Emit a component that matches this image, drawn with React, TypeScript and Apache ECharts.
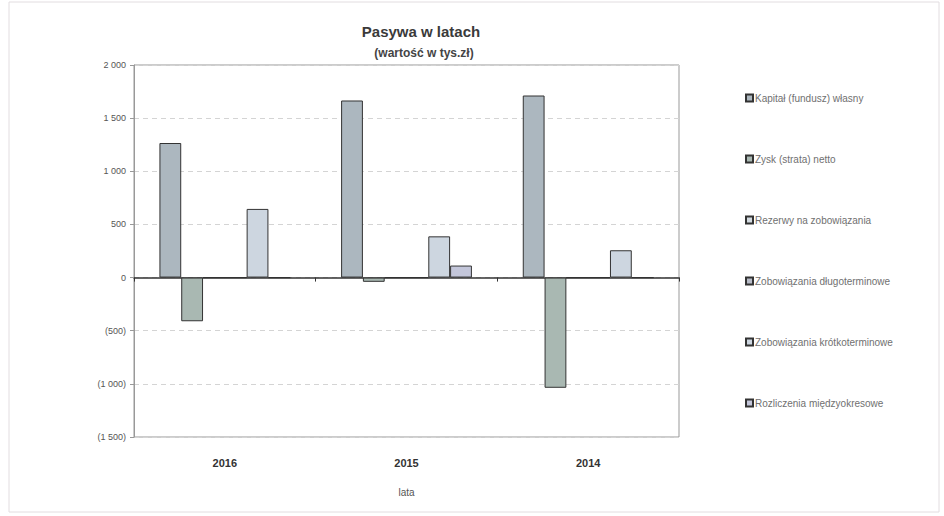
import React, { useEffect, useRef } from "react";
import * as echarts from "echarts";

const categories = ["2016", "2015", "2014"];
const seriesNames = [
  "Kapitał (fundusz) własny",
  "Zysk (strata) netto",
  "Rezerwy na zobowiązania",
  "Zobowiązania długoterminowe",
  "Zobowiązania krótkoterminowe",
  "Rozliczenia międzyokresowe",
];
const kapital = [1266, 1666, 1713];
const zysk = [-411, -40, -1037];
const rezerwy = [0, 0, 0];
const zobDlugo = [0, 0, 0];
const zobKrotko = [646, 388, 257];
const rozliczenia = [0, 113, 0];
const seriesColors = ["#acb7bf", "#a9b8b2", "#d3dae0", "#b8bcc8", "#cdd6e0", "#c3c6da"];

function fmt(v: number): string {
  const a = Math.abs(v);
  const s = a >= 1000 ? Math.floor(a / 1000) + " " + String(a % 1000).padStart(3, "0") : String(a);
  return v < 0 ? "(" + s + ")" : s;
}

export default function App() {
  const ref = useRef<HTMLDivElement>(null);
  useEffect(() => {
    if (!ref.current) return;
    const chart = echarts.init(ref.current, undefined, { renderer: "svg" });
    const data = [kapital, zysk, rezerwy, zobDlugo, zobKrotko, rozliczenia];
    chart.setOption({
      animation: false,
      backgroundColor: "#ffffff",
      textStyle: { fontFamily: "Liberation Sans, Arial, sans-serif" },
      graphic: [
        {
          type: "rect",
          shape: { x: 9, y: 2, width: 930, height: 510 },
          style: { fill: "none", stroke: "#e2dde0", lineWidth: 1 },
          silent: true,
          z: -10,
        },
      ],
      title: [
        {
          text: "Pasywa w latach",
          left: 416,
          top: 19,
          textAlign: "center",
          textStyle: { fontSize: 15, fontWeight: "bold", color: "#3a3a3a", fontFamily: "Liberation Sans, Arial, sans-serif" },
        },
        {
          text: "(wartość w tys.zł)",
          left: 419,
          top: 42,
          textAlign: "center",
          textStyle: { fontSize: 12, fontWeight: "bold", color: "#444", fontFamily: "Liberation Sans, Arial, sans-serif" },
        },
      ],
      legend: {
        orient: "vertical",
        left: 740,
        top: 88,
        itemWidth: 7,
        itemHeight: 7,
        itemGap: 51,
        icon: "rect",
        data: seriesNames,
        textStyle: { fontSize: 10, color: "#707070", padding: [0, 0, 0, -3] },
      },
      grid: {
        left: 134,
        right: 265,
        top: 65,
        bottom: 79,
        show: true,
        borderColor: "#999",
        borderWidth: 1,
      },
      xAxis: [
        {
          type: "category",
          data: categories,
          position: "bottom",
          axisLine: { show: false, onZero: false },
          axisTick: { show: false },
          axisLabel: { fontSize: 11, fontWeight: "bold", color: "#333", margin: 20 },
          name: "lata",
          nameLocation: "middle",
          nameGap: 50,
          nameTextStyle: { fontSize: 10, color: "#555" },
        },
        {
          type: "category",
          data: categories,
          position: "top",
          axisLine: { show: true, onZero: true, lineStyle: { color: "#333", width: 1.5 } },
          axisTick: { show: true, inside: true, length: 4, lineStyle: { color: "#333" } },
          axisLabel: { show: false },
        },
      ],
      yAxis: {
        type: "value",
        min: -1500,
        max: 2000,
        interval: 500,
        axisLine: { show: true, lineStyle: { color: "#999" } },
        axisTick: { show: true, length: 4, lineStyle: { color: "#999" } },
        axisLabel: { fontSize: 9, color: "#555", formatter: (v: number) => fmt(v), margin: 8 },
        splitLine: { show: true, lineStyle: { type: [5, 4], color: "#d4d4d4" } },
      },
      series: seriesNames.map((name, i) => ({
        name,
        type: "bar",
        xAxisIndex: 0,
        data: data[i],
        barGap: "0%",
        barCategoryGap: "28%",
        itemStyle: { color: seriesColors[i], borderColor: "#333", borderWidth: 1 },
      })),
    });
    return () => chart.dispose();
  }, []);
  return <div ref={ref} style={{ position: "fixed", left: 0, top: 0, width: 944, height: 516 }} />;
}
